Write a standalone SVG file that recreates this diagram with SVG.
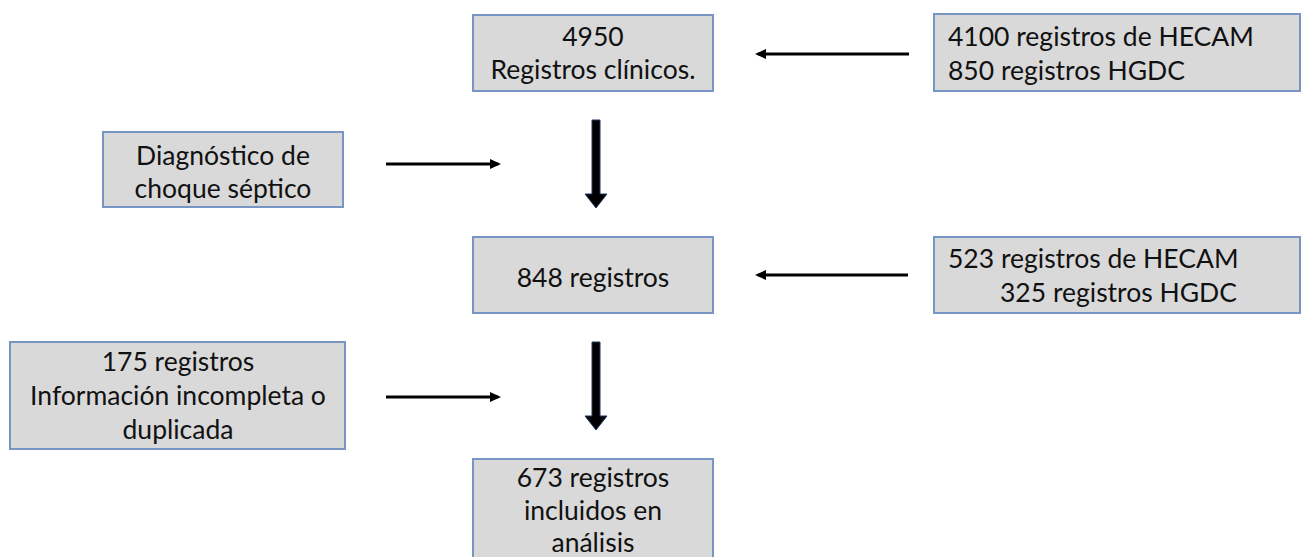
<svg xmlns="http://www.w3.org/2000/svg" width="1301" height="557" viewBox="0 0 1301 557">
<style>
.box{fill:#d9d9d9;stroke:#7796c4;stroke-width:2}
.t{font-family:Lato,"Liberation Sans",sans-serif;font-size:26.5px;fill:#111}
.c{text-anchor:middle}
.thin{stroke:#000;stroke-width:3;fill:none}
</style>
<defs>
<marker id="ah" markerWidth="12" markerHeight="12" refX="8" refY="6" orient="auto" markerUnits="userSpaceOnUse">
<path d="M0,1 L11,6 L0,11 Z" fill="#000"/>
</marker>
</defs>
<rect width="1301" height="557" fill="#fff"/>
<g id="n4950"><rect class="box" x="473" y="15" width="240" height="76"/>
<text class="t c" x="593" y="46">4950</text><text class="t c" x="593" y="79">Registros clínicos.</text></g>
<g id="nHecam1"><rect class="box" x="934" y="14" width="366" height="77"/>
<text class="t" x="948" y="46">4100 registros de HECAM</text><text class="t" x="948" y="80">850 registros HGDC</text></g>
<g id="nDiag"><rect class="box" x="103" y="132" width="240" height="75"/>
<text class="t c" x="223" y="165">Diagnóstico de</text><text class="t c" x="223" y="198">choque séptico</text></g>
<g id="n848"><rect class="box" x="473" y="237" width="240" height="76"/>
<text class="t c" x="593" y="287">848 registros</text></g>
<g id="nHecam2"><rect class="box" x="934" y="237" width="366" height="76"/>
<text class="t" x="948" y="268">523 registros de HECAM</text><text class="t" x="1000" y="302">325 registros HGDC</text></g>
<g id="n175"><rect class="box" x="10" y="342" width="335" height="107"/>
<text class="t c" x="178" y="371">175 registros</text><text class="t c" x="178" y="405">Información incompleta o</text><text class="t c" x="178" y="439">duplicada</text></g>
<g id="n673"><rect class="box" x="473" y="459" width="240" height="110"/>
<text class="t c" x="593" y="487">673 registros</text><text class="t c" x="593" y="520">incluidos en</text><text class="t c" x="593" y="552">análisis</text></g>
<g id="connectors">
<line class="thin" x1="909" y1="54" x2="758" y2="54" marker-end="url(#ah)"/>
<line class="thin" x1="908" y1="275" x2="758" y2="275" marker-end="url(#ah)"/>
<line class="thin" x1="386" y1="164" x2="498" y2="164" marker-end="url(#ah)"/>
<line class="thin" x1="386" y1="397" x2="498" y2="397" marker-end="url(#ah)"/>
<path d="M592,120 H600 V194 H607 L596,208 L585,194 H592 Z" fill="#000" stroke="#1f3864" stroke-width="1"/>
<path d="M592,342 H600 V416 H607 L596,430 L585,416 H592 Z" fill="#000" stroke="#1f3864" stroke-width="1"/>
</g>
</svg>
